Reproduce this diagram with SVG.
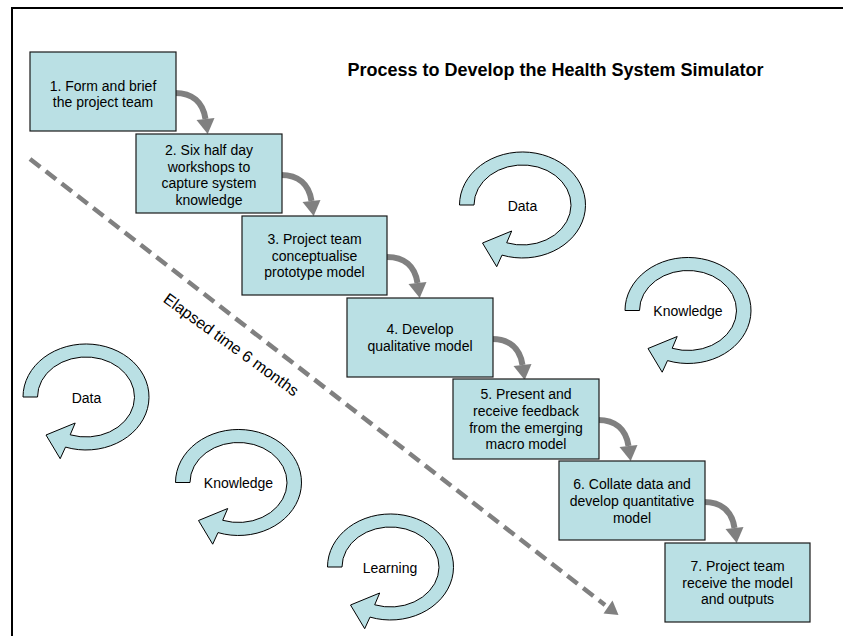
<svg xmlns="http://www.w3.org/2000/svg" xmlns:xlink="http://www.w3.org/1999/xlink" width="843" height="636" viewBox="0 0 843 636">
<style>
  text { font-family: "Liberation Sans", Arial, sans-serif; fill: #000; }
  .box { fill: #BAE0E4; stroke: #1a1a1a; stroke-width: 1.2; }
  .bt { font-size: 14px; text-anchor: middle; }
  .cyc { fill: #BAE0E4; stroke: #000; stroke-width: 1; }
  .ct { font-size: 14px; text-anchor: middle; }
  .flow { fill: none; stroke: #808080; stroke-width: 6; }
  .head { fill: #808080; }
  .title { font-size: 18px; font-weight: bold; text-anchor: middle; }
</style>
<defs>
  <path id="cycle" class="cyc" d="M-63,0 A63,53 0 1 1 -20.5,50.1 L-25.8,61.7 L-40,38 L-10.8,26 L-15.8,37.8 A48.5,40 0 1 0 -48.5,0 Z"/>
  <g id="step">
    <path class="flow" d="M-1,41 C16,41 27,50 29.5,67"/>
    <polygon class="head" points="20.5,68 38.5,66 31.7,82"/>
  </g>
</defs>
<rect x="0" y="0" width="843" height="636" fill="#fff"/>
<path d="M12,636 L12,8 L843,8" fill="none" stroke="#000" stroke-width="2"/>

<text class="title" x="555.5" y="75.5">Process to Develop the Health System Simulator</text>

<g id="connectors">
  <use xlink:href="#step" transform="translate(176,52)"/>
  <use xlink:href="#step" transform="translate(282,134)"/>
  <use xlink:href="#step" transform="translate(388,216)"/>
  <use xlink:href="#step" transform="translate(493,298)"/>
  <use xlink:href="#step" transform="translate(599,379)"/>
  <use xlink:href="#step" transform="translate(705,461)"/>
  <line x1="30" y1="159" x2="605" y2="605" stroke="#808080" stroke-width="4.5" stroke-dasharray="13 7"/>
  <polygon class="head" points="618.5,615 603.5,613.5 612.5,600.5"/>
</g>

<g id="node1">
  <rect class="box" x="30" y="52" width="146" height="79"/>
  <text class="bt" x="103" y="91">1. Form and brief</text>
  <text class="bt" x="103" y="106.5">the project team</text>
</g>
<g id="node2">
  <rect class="box" x="136" y="134" width="146" height="79"/>
  <text class="bt" x="209" y="155">2.  Six half day</text>
  <text class="bt" x="209" y="171.7">workshops to</text>
  <text class="bt" x="209" y="188.4">capture system</text>
  <text class="bt" x="209" y="205.1">knowledge</text>
</g>
<g id="node3">
  <rect class="box" x="242" y="216" width="145" height="79"/>
  <text class="bt" x="314.5" y="244">3. Project team</text>
  <text class="bt" x="314.5" y="260.7">conceptualise</text>
  <text class="bt" x="314.5" y="277.4">prototype model</text>
</g>
<g id="node4">
  <rect class="box" x="347" y="298" width="146" height="79"/>
  <text class="bt" x="420" y="334.2">4. Develop</text>
  <text class="bt" x="420" y="350.9">qualitative model</text>
</g>
<g id="node5">
  <rect class="box" x="453" y="379" width="146" height="80"/>
  <text class="bt" x="526" y="399.2">5. Present and</text>
  <text class="bt" x="526" y="415.9">receive feedback</text>
  <text class="bt" x="526" y="432.6">from the emerging</text>
  <text class="bt" x="526" y="449.3">macro model</text>
</g>
<g id="node6">
  <rect class="box" x="559" y="461" width="146" height="79"/>
  <text class="bt" x="632" y="489.2">6. Collate data and</text>
  <text class="bt" x="632" y="505.9">develop quantitative</text>
  <text class="bt" x="632" y="522.6">model</text>
</g>
<g id="node7">
  <rect class="box" x="665" y="543" width="145" height="79"/>
  <text class="bt" x="737.5" y="571">7. Project team</text>
  <text class="bt" x="737.5" y="587.7">receive the model</text>
  <text class="bt" x="737.5" y="604.4">and outputs</text>
</g>

<g id="cycle-data-top">
  <use xlink:href="#cycle" transform="translate(522.5,205)"/>
  <text class="ct" x="522.5" y="210.5">Data</text>
</g>
<g id="cycle-knowledge-right">
  <use xlink:href="#cycle" transform="translate(688,310.5)"/>
  <text class="ct" x="688" y="316">Knowledge</text>
</g>
<g id="cycle-data-left">
  <use xlink:href="#cycle" transform="translate(86,397)"/>
  <text class="ct" x="86.5" y="402.5">Data</text>
</g>
<g id="cycle-knowledge-left">
  <use xlink:href="#cycle" transform="translate(238.5,482.5)"/>
  <text class="ct" x="238.5" y="488">Knowledge</text>
</g>
<g id="cycle-learning">
  <use xlink:href="#cycle" transform="translate(390.5,567)"/>
  <text class="ct" x="390" y="572.5">Learning</text>
</g>

<text font-size="16" text-anchor="middle" transform="translate(228,349) rotate(36)">Elapsed time 6 months</text>
</svg>
